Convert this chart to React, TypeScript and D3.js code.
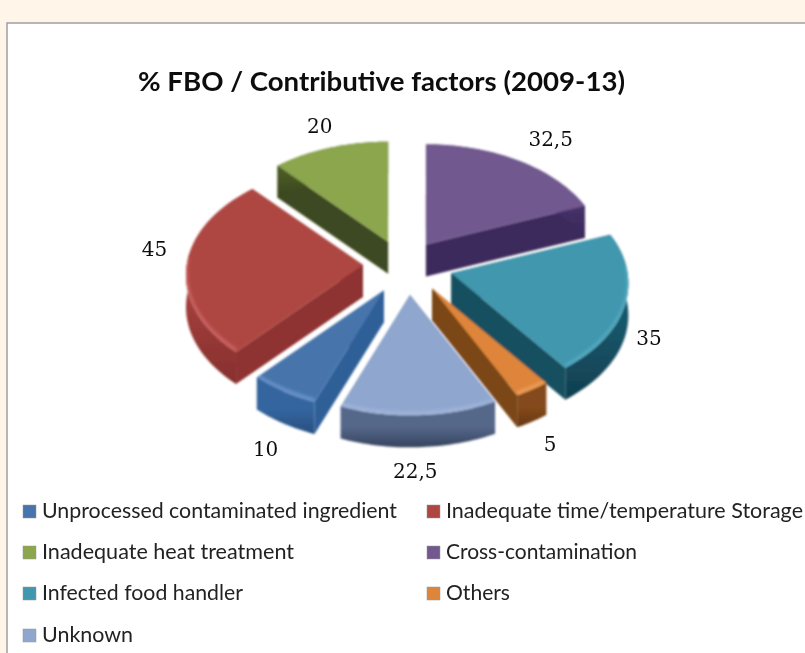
import { useMemo } from 'react';
import { line, pie, range, scaleLinear } from 'd3';

const categories = [
  'Unprocessed contaminated ingredient',
  'Inadequate time/temperature Storage',
  'Inadequate heat treatment',
  'Cross-contamination',
  'Infected food handler',
  'Others',
  'Unknown',
];
const values = [10, 45, 20, 32.5, 35, 5, 22.5];
const valueLabels = ['10', '45', '20', '32,5', '35', '5', '22,5'];
const topColors = ['#4674AB', '#AE4643', '#8BA64E', '#71588F', '#3F97AE', '#DE853B', '#8FA6CE'];
const edgeColors = ['#2F5F97', '#8E3331', '#3E4A20', '#3E2C5C', '#15505F', '#7C4716', '#4A5A78'];
const wallColors = ['#35659F', '#A53F3C', '#4A5A26', '#4A3570', '#17566A', '#84491A', '#55678A'];
const wallDarkColors = ['#274F80', '#86302E', '#3A461D', '#38285A', '#103F50', '#663710', '#36435E'];
const lightColors = ['#7EA6DC', '#DB7370', '#B0CC78', '#9B82BC', '#5FB4CB', '#F5AE6B', '#A9BCE0'];

// first slice starts here so that purple begins at 12 o'clock
const startAngle = (201.2 * Math.PI) / 180;
const width = 805;
const height = 653;
const cx = 407;
const cy = 265;
const rx = 172;
const ry = 107.5;
const explodeX = 44;
const explodeYBack = 25;
const explodeYFront = 30;
const depth = 32;

// fake perspective: the front of the pie is bigger than the back
const persp = scaleLinear().domain([1, -1]).range([0.93, 1.12]);

const project = (a: number, k = 1): [number, number] => {
  const s = persp(Math.cos(a)) * k;
  return [rx * s * Math.sin(a), -ry * s * Math.cos(a)];
};

const legendRows = [511, 552, 593, 635];
const legendCols = [23, 427];
const legendWidths = [355, 357, 252, 191, 201, 64, 91];
// hand tweaks, excel explodes a bit unevenly
const explodeNudge: [number, number][] = [
  [0, 0],
  [0, 0],
  [-3, 0],
  [-6, 0],
  [2, 0],
  [2, -2],
  [1, 0],
];
const labelNudge: [number, number][] = [
  [-2, 11],
  [-4, -14],
  [-1, -5],
  [18, -7],
  [-4, -2],
  [2, 8],
  [-5, 6],
];

export default function App() {
  const slices = useMemo(() => {
    const arcs = pie<number>()
      .sort(null)
      .startAngle(startAngle)
      .endAngle(startAngle + Math.PI * 2)(values);
    const toPath = line();
    return arcs
      .map((d, i) => {
        const mid = (d.startAngle + d.endAngle) / 2;
        const c = Math.cos(mid);
        const ox = cx + explodeX * Math.sin(mid) + explodeNudge[i][0];
        const oy = cy - (c > 0 ? explodeYBack : explodeYFront) * c + explodeNudge[i][1];
        const angles = range(0, 41).map((t) => d.startAngle + ((d.endAngle - d.startAngle) * t) / 40);
        const pts = angles.map((a) => {
          const [x, y] = project(a);
          return [ox + x, oy + y] as [number, number];
        });
        const frontPts = pts.filter((_, k) => Math.cos(angles[k]) < 0.05);
        const apex: [number, number] = [ox, oy];
        const down = (p: [number, number]): [number, number] => [p[0], p[1] + depth];
        const first = pts[0];
        const last = pts[pts.length - 1];
        const [lx, ly] = project(mid, 1.16);
        const front = c < 0 && Math.abs(Math.sin(mid)) < 0.99;
        return {
          i,
          oy,
          top: toPath([apex, ...pts])! + 'Z',
          rim: frontPts.length > 1 ? toPath(frontPts)! : '',
          outer: toPath([...pts, ...pts.map(down).reverse()])! + 'Z',
          wallA: toPath([apex, first, down(first), down(apex)])! + 'Z',
          wallB: toPath([apex, last, down(last), down(apex)])! + 'Z',
          labelX: ox + lx + labelNudge[i][0],
          labelY: oy + ly + (front ? depth : 0) + labelNudge[i][1],
        };
      })
      .sort((a, b) => a.oy - b.oy);
  }, []);

  return (
    <svg
      width={width}
      height={height}
      style={{ position: 'absolute', left: 0, top: 0, background: '#FFF6E9' }}
    >
      <defs>
        <filter id="soft" x="-5%" y="-5%" width="110%" height="110%">
          <feGaussianBlur stdDeviation="0.8" />
        </filter>
        <filter id="textSoft" x="-5%" y="-20%" width="110%" height="140%">
          <feGaussianBlur stdDeviation="0.35" />
        </filter>
        <filter id="glow" x="-10%" y="-10%" width="120%" height="120%">
          <feGaussianBlur stdDeviation="1.6" />
        </filter>
        {categories.map((_, i) => (
          <linearGradient key={i} id={`wall${i}`} x1="0" y1="0" x2="0" y2="1">
            <stop offset="0.55" stopColor={wallColors[i]} />
            <stop offset="1" stopColor={wallDarkColors[i]} />
          </linearGradient>
        ))}
        {slices.map((s) => (
          <clipPath key={s.i} id={`clip${s.i}`}>
            <path d={s.top} />
          </clipPath>
        ))}
      </defs>
      <rect x={7} y={23} width={820} height={660} fill="#fff" stroke="#A0A0A0" strokeWidth={1.5} />
      <g filter="url(#textSoft)">
        <text
          x={138}
          y={91}
          fontFamily="Lato, sans-serif"
          fontWeight={700}
          fontSize={27}
          textLength={487}
          lengthAdjust="spacingAndGlyphs"
          fill="#111"
        >
          % FBO / Contributive factors (2009-13)
        </text>
      </g>
      <g filter="url(#soft)">
        {slices.map((s) => (
          <g key={s.i}>
            <path d={s.wallA} fill={edgeColors[s.i]} />
            <path d={s.wallB} fill={edgeColors[s.i]} />
            <path d={s.outer} fill={`url(#wall${s.i})`} />
            <path d={s.top} fill={topColors[s.i]} />
            <g clipPath={`url(#clip${s.i})`}>
              {s.rim && (
                <path
                  d={s.rim}
                  fill="none"
                  stroke={lightColors[s.i]}
                  strokeOpacity={0.8}
                  strokeWidth={3}
                  filter="url(#glow)"
                  transform="translate(0,-2)"
                />
              )}
            </g>
          </g>
        ))}
      </g>
      <g filter="url(#textSoft)">
        {slices.map((s) => (
          <text
            key={s.i}
            x={s.labelX}
            y={s.labelY}
            textAnchor="middle"
            dominantBaseline="middle"
            fontFamily="'DejaVu Serif', serif"
            fontSize={20}
            fill="#111"
          >
            {valueLabels[s.i]}
          </text>
        ))}
        {categories.map((c, i) => {
          const col = legendCols[i % 2];
          const row = legendRows[Math.floor(i / 2)];
          return (
            <g key={c}>
              <rect x={col} y={row - 6} width={13} height={13} fill={topColors[i]} stroke="#999" strokeWidth={0.5} />
              <text
                x={col + 19}
                y={row + 7}
                fontFamily="Lato, sans-serif"
                fontSize={21}
                textLength={legendWidths[i]}
                lengthAdjust="spacingAndGlyphs"
                fill="#222"
              >
                {c}
              </text>
            </g>
          );
        })}
      </g>
    </svg>
  );
}
